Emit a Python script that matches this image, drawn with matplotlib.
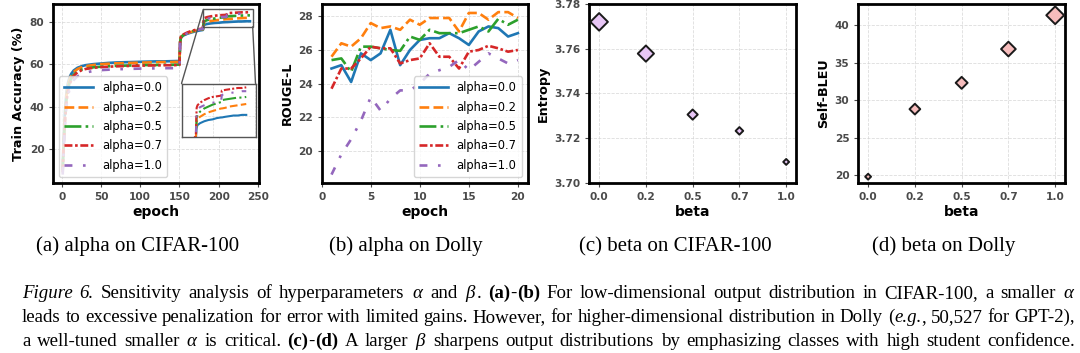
import matplotlib
matplotlib.use("Agg")
import matplotlib.pyplot as plt
from matplotlib.patches import Rectangle, ConnectionPatch

# ---------------- data ----------------
ALPHA_LABELS = ["alpha=0.0", "alpha=0.2", "alpha=0.5", "alpha=0.7", "alpha=1.0"]

# (a) CIFAR-100 train accuracy (%) vs epoch
EPOCHS_A = [1, 2, 3, 4, 5, 6, 7, 8, 10, 12, 15, 20, 25, 30, 40, 50, 60, 70, 80, 90, 100,
            110, 120, 130, 140, 150, 151, 152, 155, 160, 165, 170, 175, 180, 181, 182, 185,
            190, 195, 200, 205, 210, 211, 215, 220, 225, 230, 235, 240]
ACC_A00 = [12, 22, 31, 38, 43, 47, 49.5, 51.5, 54, 55.5, 57, 58.3, 59, 59.5, 60, 60.3, 60.6,
           60.8, 60.9, 61.0, 61.1, 61.2, 61.3, 61.3, 61.4, 61.5, 70.5, 72.5, 73.5, 74.3, 74.9,
           75.4, 75.8, 76.1, 78.2, 78.6, 78.9, 79.2, 79.4, 79.5, 79.7, 79.8, 79.8, 79.9, 80.0,
           80.1, 80.1, 80.2, 80.2]
ACC_A02 = [11, 20, 29, 36, 41.5, 45.5, 48.5, 50.5, 53, 54.8, 56.3, 57.7, 58.5, 59, 59.6, 60,
           60.2, 60.4, 60.5, 60.6, 60.7, 60.8, 60.9, 61.0, 61.0, 61.1, 70.8, 72.8, 73.8, 74.6,
           75.2, 75.7, 76.1, 76.4, 79.1, 79.5, 79.9, 80.3, 80.6, 80.8, 81.0, 81.2, 81.2, 81.3,
           81.5, 81.6, 81.7, 81.8, 81.9]
ACC_A05 = [10, 19, 27, 34, 39.5, 43.5, 46.5, 48.5, 51.5, 53.3, 55, 56.5, 57.4, 57.9, 58.5,
           58.8, 59.0, 59.2, 59.3, 59.4, 59.5, 59.6, 59.6, 59.7, 59.7, 59.8, 70.6, 72.6, 73.7,
           74.6, 75.3, 75.8, 76.2, 76.5, 79.7, 80.2, 80.7, 81.2, 81.5, 81.8, 82.0, 82.2, 82.5,
           82.6, 82.7, 82.8, 82.9, 82.9, 83.0]
ACC_A07 = [9, 18, 26, 33, 38.5, 42.5, 45.5, 47.5, 50.5, 52.5, 54.5, 56.2, 57.1, 57.7, 58.3,
           58.6, 58.8, 59.0, 59.1, 59.2, 59.3, 59.4, 59.4, 59.5, 59.5, 59.6, 71.0, 73.0, 74.0,
           74.9, 75.6, 76.1, 76.5, 76.8, 81.3, 81.7, 82.1, 82.5, 82.8, 83.0, 83.1, 83.2, 84.0,
           84.1, 84.2, 84.3, 84.4, 84.4, 84.5]
ACC_A10 = [8, 16, 24, 31, 36.5, 40.5, 43.5, 45.5, 48.5, 50.5, 52.5, 54.3, 55.3, 56.0, 56.8,
           57.2, 57.4, 57.6, 57.7, 57.8, 57.9, 58.0, 58.0, 58.1, 58.1, 58.2, 70.2, 72.3, 73.5,
           74.5, 75.3, 75.9, 76.3, 76.6, 80.7, 81.0, 81.4, 81.7, 82.0, 82.1, 82.2, 82.3, 83.3,
           83.5, 83.6, 83.7, 83.8, 83.9, 83.9]

# (b) Dolly ROUGE-L vs epoch
EPOCHS_B = list(range(1, 21))
ROUGE_A00 = [24.9, 25.1, 24.1, 25.8, 25.4, 25.8, 27.2, 25.1, 26.0, 26.6, 26.7, 26.7, 27.0,
             26.7, 26.3, 27.1, 27.4, 27.3, 26.8, 27.0]
ROUGE_A02 = [25.6, 26.4, 26.2, 26.7, 27.6, 27.3, 27.4, 27.2, 27.8, 27.5, 27.9, 27.9, 27.9,
             27.1, 28.2, 28.2, 27.8, 28.25, 28.25, 27.9]
ROUGE_A05 = [25.4, 25.5, 24.7, 26.2, 26.2, 26.1, 26.0, 25.95, 26.8, 26.6, 27.2, 27.0, 27.0,
             27.0, 27.2, 27.4, 27.1, 27.85, 27.5, 27.8]
ROUGE_A07 = [23.7, 24.9, 24.9, 25.5, 26.2, 26.1, 26.1, 25.2, 25.4, 25.5, 26.4, 25.6, 25.6,
             24.9, 25.9, 26.0, 26.25, 26.1, 25.9, 26.0]
ROUGE_A10 = [18.6, 19.8, 20.7, 21.8, 23.2, 22.4, 23.1, 23.6, 23.6, 24.0, 24.6, 24.8, 25.0,
             25.4, 24.8, 25.3, 25.8, 25.5, 25.2, 25.4]

# (c), (d) beta sweeps
BETA_LABELS = ["0.0", "0.2", "0.5", "0.7", "1.0"]
ENTROPY = [3.772, 3.7578, 3.7305, 3.7232, 3.7093]
SELF_BLEU = [19.8, 28.8, 32.3, 36.8, 41.3]

SUBCAPTIONS = ["(a) alpha on CIFAR-100", "(b) alpha on Dolly",
               "(c) beta on CIFAR-100", "(d) beta on Dolly"]

# "*" prefix = italic, "**" prefix = bold; tuples are pieces set without spaces
CAPTION_LINES = [
    ["*Figure", "*6.", "Sensitivity", "analysis", "of", "hyperparameters",
     r"$\alpha$", "and", (r"$\beta$", "."), ("**(a)", "-", "**(b)"), "For", "low-dimensional",
     "output", "distribution", "in", "CIFAR-100,", "a", "smaller", r"$\alpha$"],
    ["leads", "to", "excessive", "penalization", "for", "error", "with", "limited", "gains.",
     "However,", "for", "higher-dimensional", "distribution", "in", "Dolly",
     ("(", "*e.g.", ","), "50,527", "for", "GPT-2),"],
    ["a", "well-tuned", "smaller", r"$\alpha$", "is", "critical.", ("**(c)", "-", "**(d)"),
     "A", "larger", r"$\beta$", "sharpens", "output", "distributions", "by", "emphasizing",
     "classes", "with", "high", "student", "confidence."],
]

# ---------------- style ----------------
COLORS = ["#1f77b4", "#ff7f0e", "#2ca02c", "#d62728", "#9467bd"]
STYLES = ["-", "--", "-.", (0, (3, 1, 1, 1)), (0, (3, 4, 1, 4))]
TICK_COLOR = "#4a4a4a"
C_SIZES = [80, 68, 27, 15, 9]
D_SIZES = [9, 30, 37, 56, 82]

plt.rcParams["mathtext.fontset"] = "custom"
plt.rcParams["mathtext.rm"] = "Liberation Serif"
plt.rcParams["mathtext.it"] = "Liberation Serif:italic"
plt.rcParams["mathtext.bf"] = "Liberation Serif:bold"

W, H = 1080, 353
fig = plt.figure(figsize=(W / 100, H / 100), dpi=100)

def px_axes(left, right, top, bottom):
    return fig.add_axes([left / W, 1 - bottom / H, (right - left) / W, (bottom - top) / H])

def style_axes(ax, xlabel, ylabel):
    for sp in ax.spines.values():
        sp.set_linewidth(2.0)
        sp.set_color("black")
    ax.grid(True, linestyle="--", linewidth=0.6, color="#d4d4d4", alpha=0.8)
    ax.set_axisbelow(True)
    ax.tick_params(labelsize=7.6, colors=TICK_COLOR, labelcolor=TICK_COLOR, width=0.8, length=3)
    for lab in ax.get_xticklabels() + ax.get_yticklabels():
        lab.set_fontweight("bold")
    ax.set_xlabel(xlabel, fontsize=10, fontweight="bold", labelpad=2)
    ax.set_ylabel(ylabel, fontsize=9.2, fontweight="bold", labelpad=3)

series_a = [ACC_A00, ACC_A02, ACC_A05, ACC_A07, ACC_A10]
series_b = [ROUGE_A00, ROUGE_A02, ROUGE_A05, ROUGE_A07, ROUGE_A10]
LEG_KW = dict(fontsize=8.3, handlelength=2.5, labelspacing=0.55, borderpad=0.45,
              handletextpad=0.8, framealpha=0.8)

# (a)
axa = px_axes(53.3, 259.3, 4, 182.7)
for ys, c, ls, lab in zip(series_a, COLORS, STYLES, ALPHA_LABELS):
    axa.plot(EPOCHS_A, ys, color=c, linestyle=ls, linewidth=1.9, label=lab)
axa.set_xticks([0, 50, 100, 150, 200, 250])
axa.set_yticks([20, 40, 60, 80])
style_axes(axa, "epoch", "Train Accuracy (%)")
axa.legend(loc="lower left", **LEG_KW)

# zoom box and inset
ZOOM_X = (180.5, 243.5)
ZOOM_Y = (77.6, 85.8)
INSET_X = (163, 251)
INSET_Y = (76.7, 85.1)
axa.add_patch(Rectangle((ZOOM_X[0], ZOOM_Y[0]), ZOOM_X[1] - ZOOM_X[0], ZOOM_Y[1] - ZOOM_Y[0],
                        fill=False, edgecolor="#555555", linewidth=1.0, zorder=5))
axi = px_axes(181.5, 255.5, 83.5, 137.3)
for ys, c, ls in zip(series_a, COLORS, STYLES):
    axi.plot(EPOCHS_A, ys, color=c, linestyle=ls, linewidth=1.5)
axi.set_xlim(*INSET_X)
axi.set_ylim(*INSET_Y)
axi.set_xticks([200, 250])
axi.set_yticks([80])
axi.tick_params(length=0, labelbottom=False, labelleft=False)
axi.grid(True, linestyle="--", linewidth=0.5, color="#dddddd")
for sp in axi.spines.values():
    sp.set_linewidth(1.0)
    sp.set_color("#555555")
for (xa, ya), (xb, yb) in [((ZOOM_X[0], ZOOM_Y[1]), (0, 1)), ((ZOOM_X[1], ZOOM_Y[0]), (1, 1))]:
    con = ConnectionPatch(xyA=(xa, ya), coordsA=axa.transData, xyB=(xb, yb),
                          coordsB=axi.transAxes, color="#555555", linewidth=1.0)
    fig.add_artist(con)

# (b)
axb = px_axes(321.7, 527.7, 4, 182.7)
for ys, c, ls, lab in zip(series_b, COLORS, STYLES, ALPHA_LABELS):
    axb.plot(EPOCHS_B, ys, color=c, linestyle=ls, linewidth=1.9, label=lab)
axb.set_xlim(0, 21)
axb.set_xticks([0, 5, 10, 15, 20])
axb.set_yticks([20, 22, 24, 26, 28])
style_axes(axb, "epoch", "ROUGE-L")
axb.legend(loc="lower right", **LEG_KW)

# (c)
axc = px_axes(589.3, 796.0, 4, 182.7)
xc = list(range(len(BETA_LABELS)))
axc.scatter(xc, ENTROPY, s=C_SIZES, marker="D", facecolor="#e8c6f6", edgecolor="#1a1a1a",
            linewidth=1.4, zorder=3)
axc.set_xticks(xc)
axc.set_xticklabels(BETA_LABELS)
axc.set_xlim(-0.21, 4.21)
axc.set_ylim(3.70, 3.78)
axc.set_yticks([3.70, 3.72, 3.74, 3.76, 3.78])
axc.set_yticklabels(["3.70", "3.72", "3.74", "3.76", "3.78"])
style_axes(axc, "beta", "Entropy")

# (d)
axd = px_axes(858.3, 1065.0, 4, 182.7)
axd.scatter(xc, SELF_BLEU, s=D_SIZES, marker="D", facecolor="#f7bdbd", edgecolor="#1a1a1a",
            linewidth=1.4, zorder=3)
axd.set_xticks(xc)
axd.set_xticklabels(BETA_LABELS)
axd.set_xlim(-0.21, 4.21)
axd.set_ylim(19.0, 42.8)
axd.set_yticks([20, 25, 30, 35, 40])
style_axes(axd, "beta", "Self-BLEU")

# ---------------- captions ----------------
SERIF = "Liberation Serif"
sub_x = [138, 406, 675, 944]
for x, t in zip(sub_x, SUBCAPTIONS):
    fig.text(x / W, 1 - 251 / H, t, ha="center", va="baseline", fontsize=15, family=SERIF)

renderer = fig.canvas.get_renderer()

def make_piece(s, y, size):
    kw = dict(fontsize=size, family=SERIF, va="baseline")
    if s.startswith("**"):
        s, kw["fontweight"] = s[2:], "bold"
    elif s.startswith("*"):
        s, kw["fontstyle"] = s[1:], "italic"
    return fig.text(0, y, s, **kw)

def build_word(word, y, size):
    pieces = word if isinstance(word, tuple) else (word,)
    texts = [make_piece(p, y, size) for p in pieces]
    widths = [t.get_window_extent(renderer).width for t in texts]
    return texts, widths

LINE_Y = [298, 322, 346]
X0, X1 = 22, 1075
CAP_SIZE = 13.6
for li, (words, yb) in enumerate(zip(CAPTION_LINES, LINE_Y)):
    built = [build_word(w, 1 - yb / H, CAP_SIZE) for w in words]
    wsum = sum(sum(ws) for _, ws in built)
    gap = (X1 - X0 - wsum) / (len(words) - 1)
    gap = max(gap, 2.0)
    x = X0
    for texts, ws in built:
        for t, wd in zip(texts, ws):
            t.set_x(x / W)
            x += wd
        x += gap

fig.savefig("out.png", dpi=100)
